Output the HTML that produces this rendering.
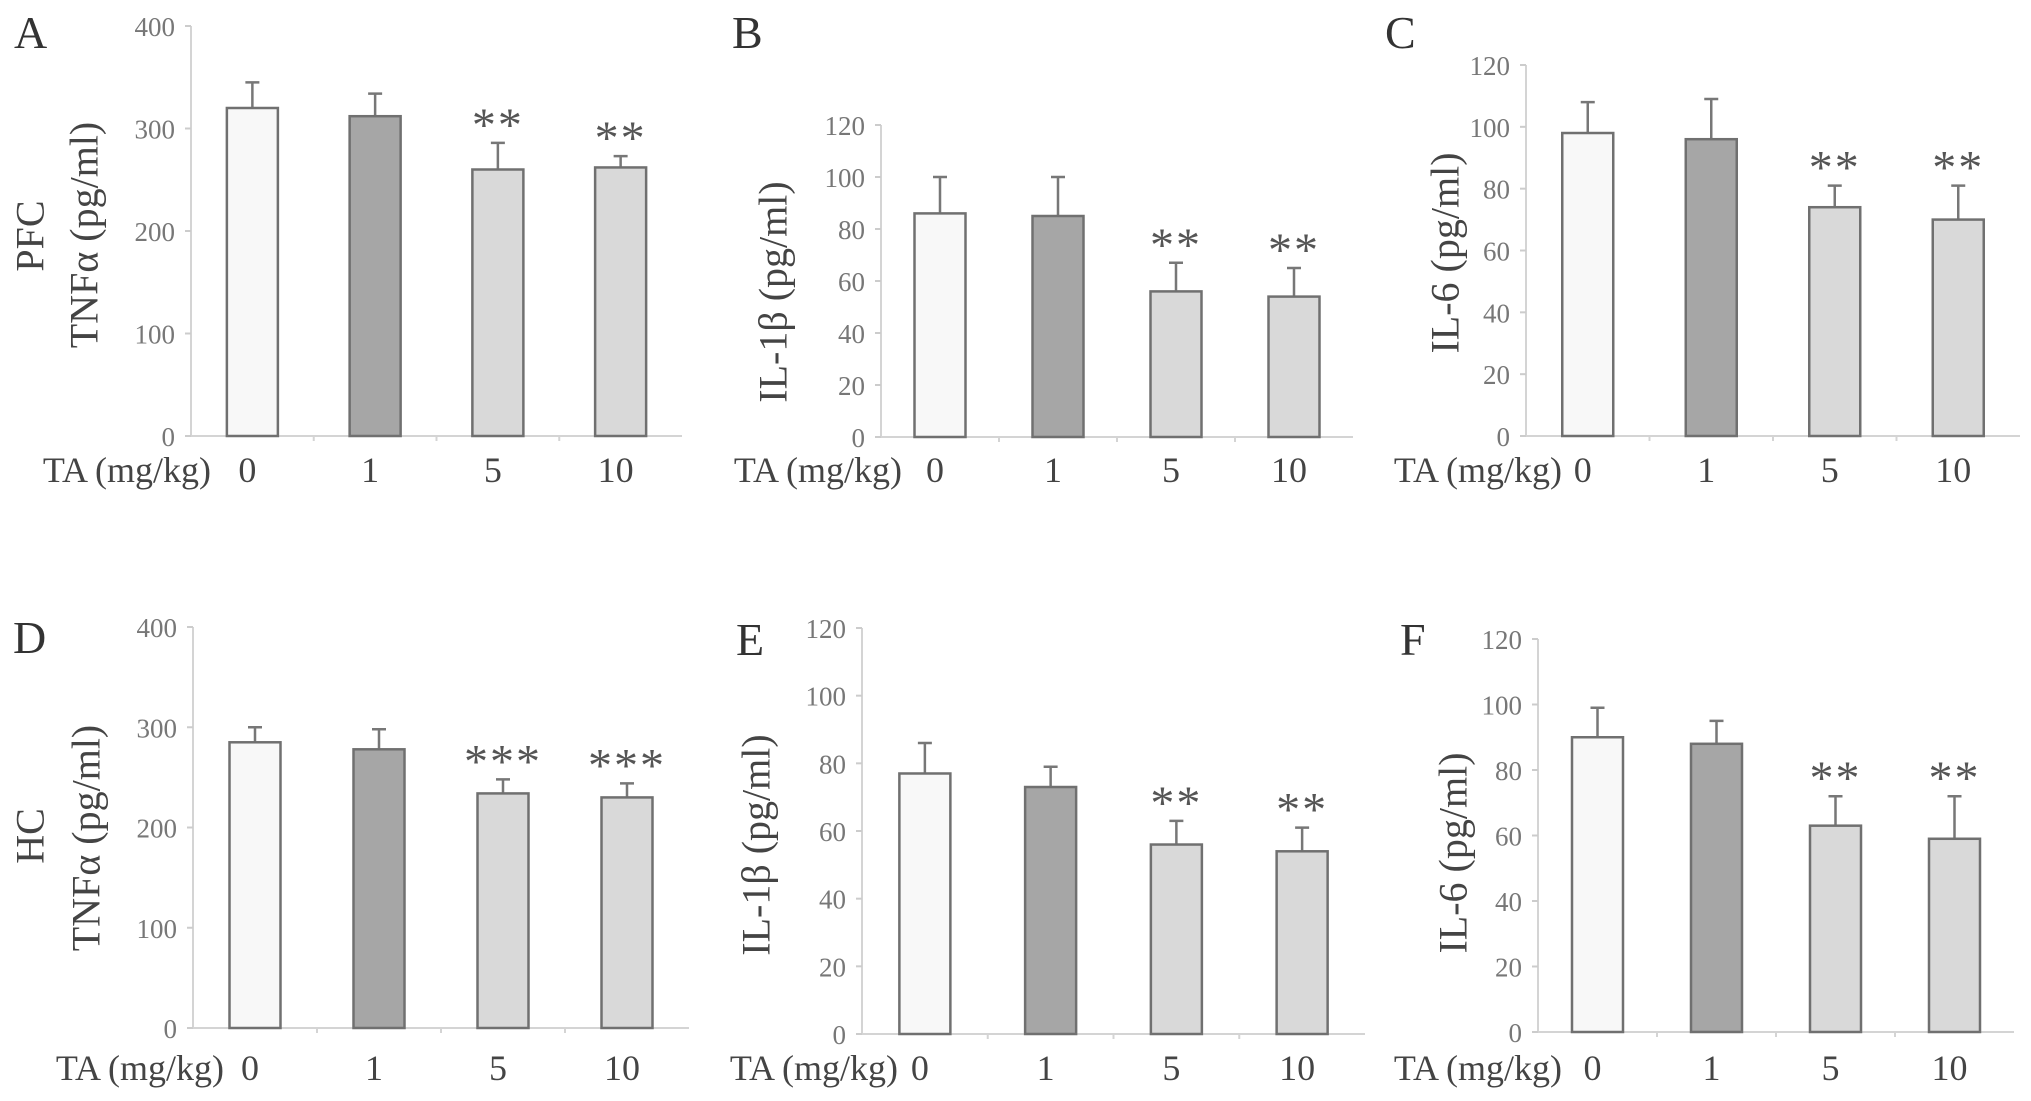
<!DOCTYPE html>
<html><head><meta charset="utf-8"><style>
html,body{margin:0;padding:0;background:#fff;}
svg{display:block;}
text{font-family:"Liberation Serif",serif;}
</style></head><body>
<svg id="fig" width="2031" height="1101" viewBox="0 0 2031 1101"></svg>
<script>
const categories = ["0","1","5","10"];
const valuesA = [320, 312, 260, 262];
const errorsA = [345, 334, 286, 273];
const valuesB = [86, 85, 56, 54];
const errorsB = [100, 100, 67, 65];
const valuesC = [98, 96, 74, 70];
const errorsC = [108, 109, 81, 81];
const valuesD = [285, 278, 234, 230];
const errorsD = [300, 298, 248, 244];
const valuesE = [77, 73, 56, 54];
const errorsE = [86, 79, 63, 61];
const valuesF = [90, 88, 63, 59];
const errorsF = [99, 95, 72, 72];
const starsA = ["", "", "**", "**"];
const starsB = ["", "", "**", "**"];
const starsC = ["", "", "**", "**"];
const starsD = ["", "", "***", "***"];
const starsE = ["", "", "**", "**"];
const starsF = ["", "", "**", "**"];
const ticksTNF = [0, 100, 200, 300, 400];
const ticksIL = [0, 20, 40, 60, 80, 100, 120];

const NS = "http://www.w3.org/2000/svg";
const svg = document.getElementById("fig");
const fills = ["#f8f8f8", "#a6a6a6", "#d9d9d9", "#d9d9d9"];

function mk(tag, attrs, parent) {
  const e = document.createElementNS(NS, tag);
  for (const k in attrs) e.setAttribute(k, attrs[k]);
  (parent || svg).appendChild(e);
  return e;
}

function panel(cfg) {
  const g = mk("g", {});
  
  
  const maxV = cfg.ticks[cfg.ticks.length - 1];
  const y = v => cfg.y0 - (v / maxV) * (cfg.y0 - cfg.yTop);
  const band = (cfg.xEnd - cfg.x0) / categories.length;
  const cx = i => cfg.x0 + (i + 0.5) * band;
  const bw = 51;

  const ya = mk("line", {x1: cfg.x0, y1: cfg.yTop, x2: cfg.x0, y2: cfg.y0, stroke: "#d4d4d4", "stroke-width": 2}, g);
  
  
  const xa = mk("line", {x1: cfg.x0, y1: cfg.y0, x2: cfg.xEnd, y2: cfg.y0, stroke: "#d4d4d4", "stroke-width": 2}, g);
  
  
  for (let i = 1; i < categories.length; i++) {
    mk("line", {x1: cfg.x0 + i * band, y1: cfg.y0, x2: cfg.x0 + i * band, y2: cfg.y0 + 5, stroke: "#d4d4d4", "stroke-width": 2}, g);
  }
  cfg.ticks.forEach(t => {
    mk("line", {x1: cfg.x0 - 6, y1: y(t), x2: cfg.x0, y2: y(t), stroke: "#ccc", "stroke-width": 2}, g);
    const tl = mk("text", {x: cfg.x0 - 16, y: y(t) + 10, "text-anchor": "end", "font-size": 27, fill: "#777"}, g);
    tl.textContent = t;
    
    
  });

  cfg.values.forEach((v, i) => {
    const e = cfg.errors[i];
    const eb = mk("path", {d: `M${cx(i)},${y(v)}V${y(e)}M${cx(i)-7},${y(e)}H${cx(i)+7}`, stroke: "#777", "stroke-width": 2.5, fill: "none"}, g);
    
    
    const r = mk("rect", {x: cx(i) - bw / 2, y: y(v), width: bw, height: cfg.y0 - y(v), fill: fills[i], stroke: "#707070", "stroke-width": 2.5}, g);
    
    
    if (cfg.stars[i]) {
      const s = mk("text", {x: cx(i), y: y(e) - 2, "text-anchor": "middle", "font-size": 48, fill: "#555", "letter-spacing": "2"}, g);
      s.textContent = cfg.stars[i];
      
      
    }
    const cl = mk("text", {x: cx(i) - 5, y: cfg.labelY, "text-anchor": "middle", "font-size": 36, fill: "#444"}, g);
    cl.textContent = categories[i];
    
    
  });

  const xt = mk("text", {x: cfg.taRight, y: cfg.labelY, "text-anchor": "end", "font-size": 36, fill: "#444"}, g);
  xt.textContent = "TA (mg/kg)";
  
  

  const lt = mk("text", {x: cfg.letterX, y: cfg.letterY, "font-size": 46, fill: "#333"}, g);
  lt.textContent = cfg.letter;
  
  

  cfg.titles.forEach(tt => {
    const t = mk("text", {x: tt.x, y: tt.y, "text-anchor": "middle", "font-size": 40, fill: "#444", transform: `rotate(-90 ${tt.x} ${tt.y})`, "dominant-baseline": "central"}, g);
    t.textContent = tt.text;
    
    
  });
}

panel({letter:"A", x0:191, xEnd:682, y0:436, yTop:26, ticks:ticksTNF, values:valuesA, errors:errorsA, stars:starsA,
  labelY:482, taRight:211, letterX:14, letterY:48,
  titles:[{text:"PFC", x:30, y:236}, {text:"TNFα (pg/ml)", x:84, y:235}]});
panel({letter:"B", x0:881, xEnd:1353, y0:437, yTop:125, ticks:ticksIL, values:valuesB, errors:errorsB, stars:starsB,
  labelY:482, taRight:902, letterX:732, letterY:48,
  titles:[{text:"IL-1β (pg/ml)", x:773, y:292}]});
panel({letter:"C", x0:1526, xEnd:2020, y0:436, yTop:65, ticks:ticksIL, values:valuesC, errors:errorsC, stars:starsC,
  labelY:482, taRight:1562, letterX:1385, letterY:48,
  titles:[{text:"IL-6 (pg/ml)", x:1445, y:253}]});
panel({letter:"D", x0:193, xEnd:689, y0:1028, yTop:627, ticks:ticksTNF, values:valuesD, errors:errorsD, stars:starsD,
  labelY:1080, taRight:224, letterX:13, letterY:653,
  titles:[{text:"HC", x:30, y:836}, {text:"TNFα (pg/ml)", x:86, y:838}]});
panel({letter:"E", x0:862, xEnd:1365, y0:1034, yTop:628, ticks:ticksIL, values:valuesE, errors:errorsE, stars:starsE,
  labelY:1080, taRight:898, letterX:736, letterY:655,
  titles:[{text:"IL-1β (pg/ml)", x:756, y:845}]});
panel({letter:"F", x0:1538, xEnd:2014, y0:1032, yTop:639, ticks:ticksIL, values:valuesF, errors:errorsF, stars:starsF,
  labelY:1080, taRight:1562, letterX:1400, letterY:655,
  titles:[{text:"IL-6 (pg/ml)", x:1453, y:853}]});
</script>
</body></html>
